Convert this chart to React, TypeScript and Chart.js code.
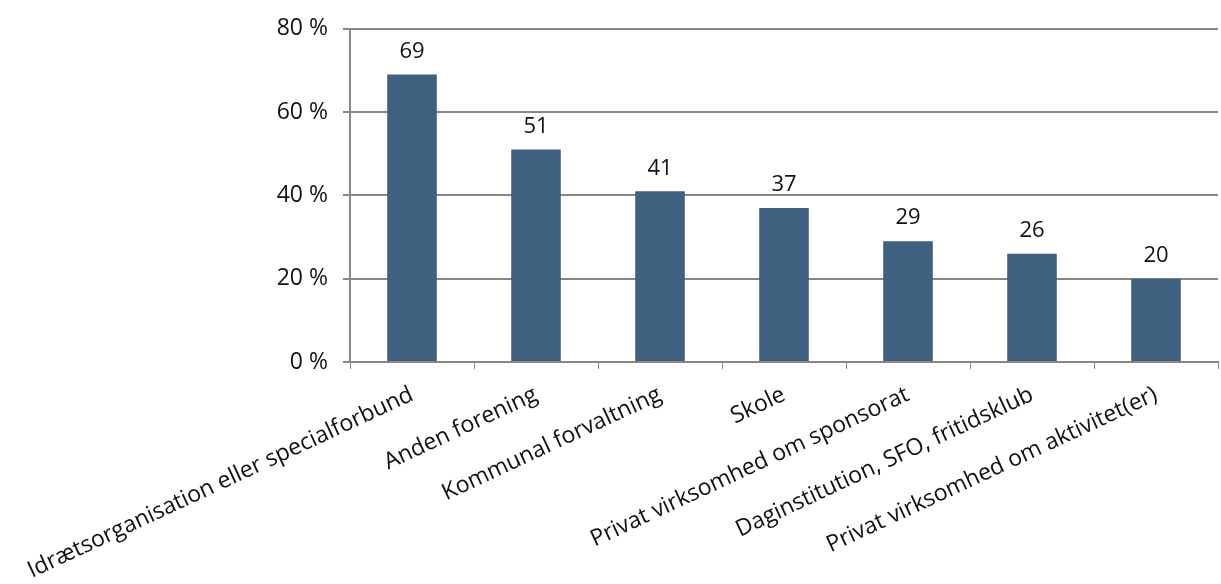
import React, { useEffect, useRef } from "react";
import { Chart, registerables } from "chart.js";

Chart.register(...registerables);

const categories = [
  "Idrætsorganisation eller specialforbund",
  "Anden forening",
  "Kommunal forvaltning",
  "Skole",
  "Privat virksomhed om sponsorat",
  "Daginstitution, SFO, fritidsklub",
  "Privat virksomhed om aktivitet(er)",
];
const values = [69, 51, 41, 37, 29, 26, 20];
const yTicks = [0, 20, 40, 60, 80];

const FONT = "'Open Sans', sans-serif";

const valueLabels = {
  id: "valueLabels",
  afterDatasetsDraw(chart: any) {
    const ctx = chart.ctx;
    const meta = chart.getDatasetMeta(0);
    ctx.save();
    ctx.font = `22px ${FONT}`;
    ctx.fillStyle = "#111";
    ctx.textAlign = "center";
    ctx.textBaseline = "bottom";
    meta.data.forEach((bar: any, i: number) => {
      ctx.fillText(String(values[i]), bar.x, bar.y - 12);
    });
    ctx.restore();
  },
};

export default function App() {
  const ref = useRef<HTMLCanvasElement | null>(null);
  useEffect(() => {
    if (!ref.current) return;
    const chart = new Chart(ref.current, {
      type: "bar",
      data: {
        labels: categories,
        datasets: [
          {
            data: values,
            backgroundColor: "#3F617F",
            borderWidth: 0,
            barPercentage: 0.8,
            categoryPercentage: 0.5,
          },
        ],
      },
      options: {
        animation: false,
        responsive: false,
        layout: { padding: { top: 14, right: 3, left: 0, bottom: 0 } },
        plugins: { legend: { display: false }, tooltip: { enabled: false } },
        scales: {
          x: {
            afterFit: (axis: any) => {
              axis.height = 222;
              axis.paddingLeft = 0;
              axis.paddingRight = 0;
            },
            grid: {
              display: true,
              drawOnChartArea: false,
              drawTicks: true,
              tickLength: 7,
              color: "#888",
              offset: true,
            },
            border: { display: true, color: "#888", width: 2 },
            ticks: {
              maxRotation: 25,
              minRotation: 25,
              autoSkip: false,
              padding: 12,
              color: "#111",
              font: { family: FONT, size: 23 },
            },
          },
          y: {
            min: 0,
            max: 80,
            afterFit: (axis: any) => {
              axis.width = 350;
            },
            afterBuildTicks: (axis: any) => {
              axis.ticks = yTicks.map((v) => ({ value: v }));
            },
            grid: {
              color: "#888",
              lineWidth: 2,
              drawTicks: true,
              tickLength: 7,
            },
            border: { display: true, color: "#888", width: 2 },
            ticks: {
              padding: 15,
              color: "#111",
              font: { family: FONT, size: 23 },
              callback: (v: any) => `${v} %`,
            },
          },
        },
      },
      plugins: [valueLabels],
    });
    return () => chart.destroy();
  }, []);
  return (
    <div style={{ position: "fixed", left: 0, top: 0, width: 1221, height: 584, background: "#fff" }}>
      <canvas ref={ref} width={1221} height={584} />
    </div>
  );
}
